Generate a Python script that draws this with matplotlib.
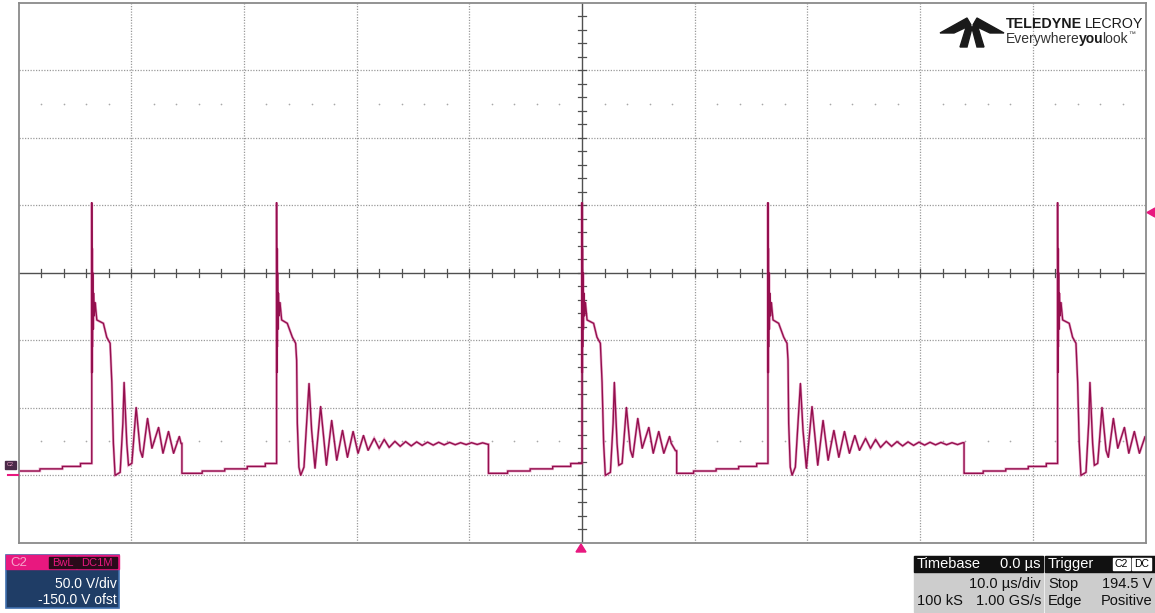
import numpy as np
import matplotlib.pyplot as plt
from matplotlib.patches import Rectangle, Polygon

W, H = 1155, 613
plt.rcParams['font.family'] = ['Liberation Sans', 'DejaVu Sans']

# ---- trace data (time in us, voltage in V) ----
edge_times = [-43.5, -27.1, 0.0, 16.5, 42.2]
pulse_kind = ['short', 'long', 'short', 'long', 'short']
fall_after = [8.0, 18.8, 8.4, 17.4, None]      # us after the edge

# turn-off spike (relative to edge)
spike_dt = [0.0, 0.0, 0.02, 0.04, 0.06, 0.09, 0.12, 0.16, 0.22, 0.30, 0.45]
spike_v = [9, 202, 76, 168, 95, 150, 108, 135, 118, 128, 115]

# plateau + ringing, short pulses
short_dt = [1.03, 1.33, 1.63, 1.78, 1.92, 2.07, 2.52, 2.76, 2.87, 3.11, 3.26,
            3.56, 3.94, 4.30, 4.50, 4.95, 5.34, 5.93, 6.32, 6.81, 7.26, 7.77,
            7.92, 8.30, 8.60]
short_v = [112.5, 102.2, 97.7, 68.8, 23.5, -0.2, 2.0, 38.4, 68.8, 23.5, 7.2,
           8.7, 50.2, 18.3, 13.1, 42.1, 19.8, 35.4, 16.1, 32.4, 16.1, 28.7,
           23.5, 18.0, 26.0]

# plateau + ringing, long pulses
long_dt = [0.95, 1.40, 1.69, 1.78, 1.84, 1.98, 2.14, 2.43, 2.67, 2.88, 3.11,
           3.41, 3.91, 4.42, 4.89, 5.34, 5.85, 6.29, 6.79, 7.23, 7.71, 8.12,
           8.66, 9.10, 9.55, 9.99, 10.50, 10.97, 11.45, 11.95, 12.43, 12.92,
           13.40, 13.90, 14.38, 14.87, 15.35, 15.85, 16.33, 16.82, 17.30,
           17.80, 18.28, 18.75]
long_v = [112.5, 102.2, 97.7, 85.1, 38.4, 5.9, -0.2, 5.9, 38.4, 68.0, 33.2,
          5.0, 50.9, 7.2, 40.6, 10.9, 33.2, 13.1, 32.4, 16.1, 29.4, 18.3,
          27.2, 19.8, 26.4, 20.5, 25.0, 21.3, 24.8, 21.6, 24.6, 22.0, 24.4,
          22.2, 24.3, 22.4, 24.2, 22.5, 24.0, 22.6, 24.0, 22.7, 23.9, 22.8]

# baseline between pulses (relative to the next edge)
base_dt = [-8.3, -6.6, -6.6, -4.6, -4.6, -2.6, -2.6, -1.0, -1.0, 0.0]
base_v = [1.3, 1.3, 3.0, 3.0, 4.6, 4.6, 6.4, 6.4, 8.6, 8.6]
low_level = 1.3

trig_level = 194.5
shapes = {'short': (short_dt, short_v), 'long': (long_dt, long_v)}

ts, vs = [], []
last_fall = -1e9
for te, kind, fa in zip(edge_times, pulse_kind, fall_after):
    for dt, v in zip(base_dt, base_v):
        if te + dt > last_fall:
            ts.append(te + dt)
            vs.append(v)
    for dt, v in zip(spike_dt, spike_v):
        ts.append(te + dt)
        vs.append(v)
    rdt, rv = shapes[kind]
    for dt, v in zip(rdt, rv):
        if fa is None or dt < fa:
            ts.append(te + dt)
            vs.append(v)
    if fa is not None:
        ts += [te + fa, te + fa]
        vs += [vs[-1], low_level]
        last_fall = te + fa

# ---- figure ----
fig = plt.figure(figsize=(W / 100, H / 100), dpi=100)
ax = fig.add_axes([18.5 / W, (H - 542.5) / H, 1127 / W, 539.5 / H])
ax.set_xlim(-50, 50)
ax.set_ylim(-50, 350)
ax.set_xticks([])
ax.set_yticks([])
for s in ax.spines.values():
    s.set_color('#8a8a8a')
    s.set_linewidth(1.3)

grid_c = '#9a9a9a'
for x in range(-40, 50, 10):
    if x != 0:
        ax.axvline(x, color=grid_c, lw=0.9, ls=(0, (1, 1.2)))
for y in range(0, 350, 50):
    if y != 150:
        ax.axhline(y, color=grid_c, lw=0.9, ls=(0, (1, 1.2)))
ax.axvline(0, color='#505050', lw=1.0)
ax.axhline(150, color='#505050', lw=1.0)
xt = np.arange(-48, 50, 2)
for x in xt:
    ax.plot([x, x], [147, 153], color='#505050', lw=0.9)
yt = np.arange(-40, 350, 10)
for y in yt:
    ax.plot([-0.36, 0.36], [y, y], color='#505050', lw=0.9)
# faint dot rows
dx = [x for x in np.arange(-48, 50, 2) if x % 10 != 0]
ax.scatter(dx, [275] * len(dx), s=1.5, color='#a8a8a8', lw=0)
ax.scatter(dx, [25] * len(dx), s=1.5, color='#a8a8a8', lw=0)

ax.plot(ts, vs, color='#d0408a', lw=1.9, alpha=0.45, solid_joinstyle='miter')
ax.plot(ts, vs, color='#940f4e', lw=1.0)

# ---- overlay in pixel coordinates ----
ov = fig.add_axes([0, 0, 1, 1])
ov.set_xlim(0, W)
ov.set_ylim(H, 0)
ov.axis('off')
ov.patch.set_alpha(0)

pink = '#e8187f'
# trigger level marker (right) and trigger position marker (bottom)
ty = 272.5 - (trig_level - 150) / 50 * 67.4
ov.add_patch(Polygon([(1147, ty), (1155, ty - 4.5), (1155, ty + 4.5)], color=pink))
ov.add_patch(Polygon([(581, 544), (576, 552), (586, 552)], color=pink))
# ground marker
ov.add_patch(Rectangle((5, 461), 11, 8, color='#4a2a48'))
ov.text(10.5, 465, 'C2', fontsize=4, color='#f0a0c8', ha='center', va='center')
ov.plot([8, 18], [475, 475], color=pink, lw=1.5)

# logo
k = '#1a1a1a'
ov.add_patch(Polygon([(967, 18), (940, 33), (954, 33), (971, 25)], color=k))
ov.add_patch(Polygon([(977, 18), (1004, 33), (990, 33), (973, 25)], color=k))
ov.add_patch(Polygon([(968, 21), (960, 47), (967, 47), (972, 28)], color=k))
ov.add_patch(Polygon([(976, 21), (984, 47), (977, 47), (972, 28)], color=k))
t1 = ov.text(1006, 24, 'TELEDYNE', fontsize=10.3, fontweight='bold', color=k,
             va='center')
fig.canvas.draw()
r = fig.canvas.get_renderer()


def after(t, gap=0):
    bb = t.get_window_extent(r)
    return bb.x1 + gap


t2 = ov.text(after(t1, 3), 24, 'LECROY', fontsize=10.3, color=k, va='center')
e1 = ov.text(1006, 39, 'Everywhere', fontsize=10, color='#333333', va='center')
e2 = ov.text(after(e1, -1), 39, 'you', fontsize=10, fontweight='bold', color=k, va='center')
e3 = ov.text(after(e2, -1), 39, 'look', fontsize=10, color='#333333', va='center')
ov.text(after(e3), 34, '™', fontsize=5, color='#333333', va='center')

# channel box (bottom left)
ov.add_patch(Rectangle((6, 555), 113, 53, facecolor='#1f3d66', edgecolor='#3f6fae', lw=1.2))
ov.add_patch(Rectangle((6, 555), 113, 14, color=pink))
ov.add_patch(Rectangle((49, 557), 27, 11, color='#2a0a1a'))
ov.add_patch(Rectangle((77, 557), 40, 11, color='#2a0a1a'))
ov.text(10, 562.5, 'C2', fontsize=9.5, color='#f6a6cc', va='center')
ov.text(62.5, 562.5, 'BwL', fontsize=8, color=pink, va='center', ha='center')
ov.text(97, 562.5, 'DC1M', fontsize=8, color=pink, va='center', ha='center')
ov.text(117, 584, '50.0 V/div', fontsize=10, color='white', va='center', ha='right')
ov.text(117, 600, '-150.0 V ofst', fontsize=10, color='white', va='center', ha='right')

# timebase / trigger boxes (bottom right)
ov.add_patch(Rectangle((914, 556), 129, 56, color='#cdcdcd'))
ov.add_patch(Rectangle((914, 556), 129, 16, color='#111111'))
ov.add_patch(Rectangle((1045, 556), 110, 56, color='#cdcdcd'))
ov.add_patch(Rectangle((1045, 556), 110, 16, color='#111111'))
ov.add_patch(Rectangle((1113, 558), 17, 12, color='white'))
ov.add_patch(Rectangle((1132, 558), 19, 12, color='white'))
ov.text(1121.5, 564, 'C2', fontsize=7.5, color='black', ha='center', va='center')
ov.text(1141.5, 564, 'DC', fontsize=7.5, color='black', ha='center', va='center')
fs = 10.5
ov.text(917, 564, 'Timebase', fontsize=fs, color='white', va='center')
ov.text(1041, 564, '0.0 µs', fontsize=fs, color='white', va='center', ha='right')
ov.text(1048, 564, 'Trigger', fontsize=fs, color='white', va='center')
ov.text(1041, 584, '10.0 µs/div', fontsize=fs, color='#111111', va='center', ha='right')
ov.text(917, 601, '100 kS', fontsize=fs, color='#111111', va='center')
ov.text(1041, 601, '1.00 GS/s', fontsize=fs, color='#111111', va='center', ha='right')
ov.text(1048, 584, 'Stop', fontsize=fs, color='#111111', va='center')
ov.text(1152, 584, f'{trig_level} V', fontsize=fs, color='#111111', va='center', ha='right')
ov.text(1048, 601, 'Edge', fontsize=fs, color='#111111', va='center')
ov.text(1152, 601, 'Positive', fontsize=fs, color='#111111', va='center', ha='right')

fig.savefig('out.png', dpi=100)
